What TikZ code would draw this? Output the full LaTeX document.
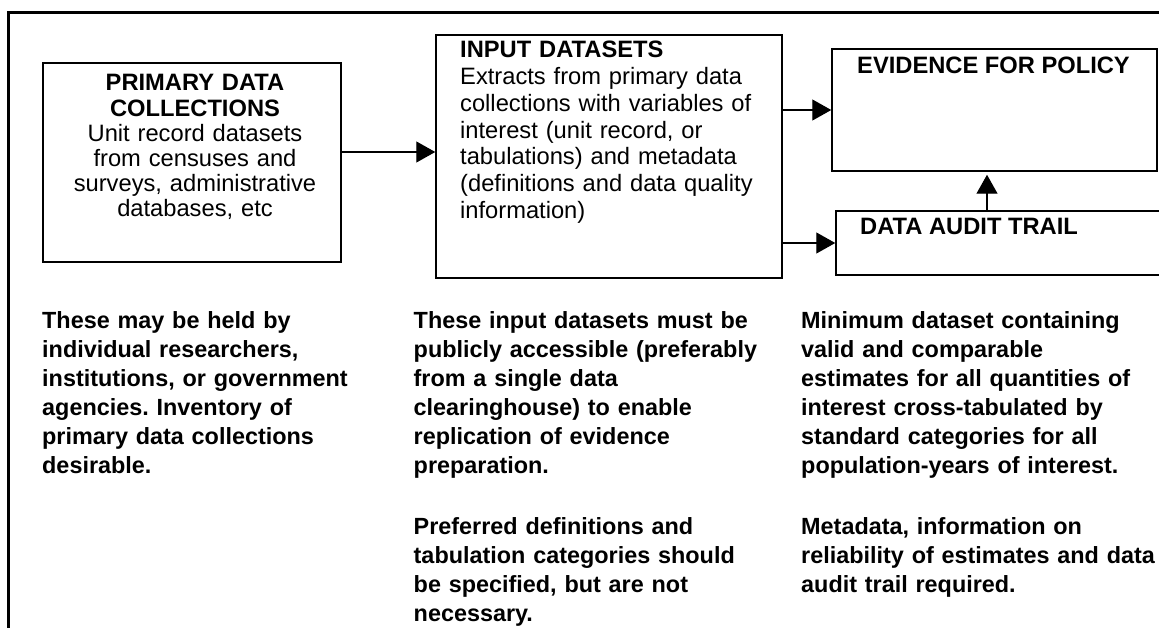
\documentclass[tikz,border=0pt]{standalone}
\usepackage{fontspec}
\setmainfont{Liberation Sans}
\usetikzlibrary{arrows.meta, positioning}
\frenchspacing

\begin{document}
\begin{tikzpicture}[x=1pt, y=-1pt,
		box/.style={draw, line width=1.5pt, inner sep=0pt},
		txt/.style={inner sep=0pt, anchor=base west, font=\fontsize{23.7}{26.7}\selectfont},
		head/.style={txt, font=\fontsize{23.7}{26.7}\selectfont\bfseries},
		note/.style={inner sep=0pt, anchor=base west, text width=400pt, align=left,
			font=\fontsize{23.4}{29}\selectfont\bfseries},
		arr/.style={line width=1.3pt, -{Triangle[length=19pt,width=21pt]}}]
		%-------------------------------------------------------------------------------
		% page
		%-------------------------------------------------------------------------------
		\useasboundingbox (0,0) rectangle (1159,628);
		\clip (0,0) rectangle (1159,628);
		\draw[line width=3pt] (8,640) -- (8,13) -- (1170,13);
		
		% boxes
		\node[box, minimum width=298pt, minimum height=199pt] (prim) at (192,162.5) {};
		\node[box, minimum width=346pt, minimum height=243pt] (inp) at (609,156.5) {};
		\node[box, minimum width=325pt, minimum height=122pt] (ev) at (994.5,110) {};
		\node[box, minimum width=334pt, minimum height=64pt] (aud) at (1003,243) {};
		
		% box texts
		\node[txt, anchor=base, text width=296pt, align=center,
			font=\fontsize{23.7}{25.2}\selectfont] (primtext) at (195,91)
			{\textbf{PRIMARY DATA}\\\textbf{COLLECTIONS}\\Unit record datasets\\from censuses and\\surveys, administrative\\databases, etc};
		\node[txt, text width=320pt, align=left] (inptext) at (460,58)
			{\textbf{INPUT DATASETS}\\Extracts from primary data\\collections with variables of\\interest (unit record, or\\tabulations) and metadata\\(definitions and data quality\\information)};
		\node[head] (evtext) at (857,74) {EVIDENCE FOR POLICY};
		\node[head] (audtext) at (860,235) {DATA AUDIT TRAIL};
		
		% flow
		\draw[arr] ([yshift=10.5pt]prim.east) -- ([yshift=10.5pt]prim.east -| inp.west);
		\draw[arr] (inp.east |- ev.west) -- (ev.west);
		\draw[arr] (inp.east |- aud.west) -- (aud.west);
		\draw[arr] ([xshift=-7.5pt]ev.south |- aud.north) -- ([xshift=-7.5pt,yshift=-3pt]ev.south);
		
		% notes
		\node[note] (primnote) at (42,328)
			{These may be held by\\individual researchers,\\institutions, or government\\agencies. Inventory of\\primary data collections\\desirable.};
		\node[note] (inpnote) at (413.5,328)
			{These input datasets must be\\publicly accessible (preferably\\from a single data\\clearinghouse) to enable\\replication of evidence\\preparation.};
		\node[note] (inpnotex) at (413.5,534)
			{Preferred definitions and\\tabulation categories should\\be specified, but are not\\necessary.};
		\node[note] (evnote) at (801,328)
			{Minimum dataset containing\\valid and comparable\\estimates for all quantities of\\interest cross-tabulated by\\standard categories for all\\population-years of interest.};
		\node[note] (evnotex) at (801,534)
			{Metadata, information on\\reliability of estimates and data\\audit trail required.};
\end{tikzpicture}
\end{document}
